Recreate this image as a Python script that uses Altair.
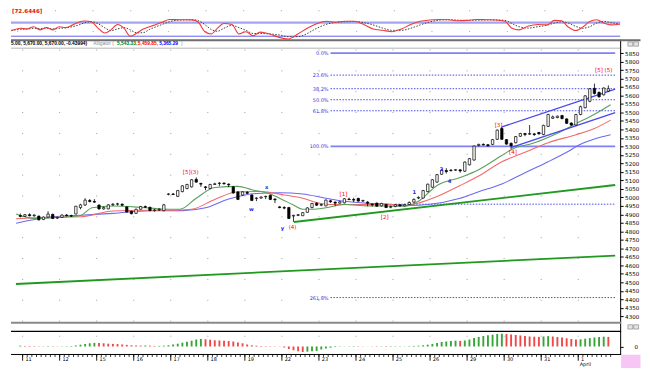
import altair as alt
import pandas as pd

# ---------------- data ----------------
opens = [4893, 4888, 4898, 4892, 4890, 4870, 4884, 4900, 4878, 4882, 4896, 4892,
         4902, 4940, 4955, 4982, 4976, 4955, 4932, 4932, 4956, 4960, 4960, 4944,
         4918, 4906, 4930, 4946, 4942, 4922, 4926, 4922, 5018, 5020, 5006, 5034,
         5052, 5062, 5106, 5082, 5062, 5052, 5076, 5082, 5084, 5078, 5062, 5032,
         5014, 5030, 5014, 4994, 4996, 5004, 5012, 4990, 4944, 4940, 4940, 4890,
         4894, 4892, 4912, 4940, 4966, 4954, 4950, 4980, 4972, 4966, 4968, 4990,
         4988, 4994, 4978, 4972, 4960, 4966, 4950, 4958, 4942, 4946, 4956, 4950,
         4958, 4972, 4996, 4996, 5034, 5060, 5090, 5136, 5158, 5160, 5160, 5162,
         5154, 5192, 5220, 5306, 5312, 5310, 5312, 5342, 5406, 5340, 5318, 5322,
         5360, 5376, 5372, 5374, 5382, 5370, 5418, 5466, 5470, 5482, 5462, 5438,
         5426, 5488, 5528, 5566, 5642, 5618, 5604, 5626]
highs = [4905, 4902, 4906, 4900, 4892, 4888, 4918, 4904, 4886, 4900, 4902, 4898,
         4950, 4962, 4995, 4990, 4990, 4958, 4946, 4960, 4966, 4968, 4964, 4946,
         4922, 4934, 4950, 4952, 4944, 4932, 4936, 4962, 5024, 5026, 5044, 5072,
         5080, 5108, 5118, 5086, 5066, 5080, 5086, 5090, 5088, 5082, 5066, 5036,
         5036, 5036, 5018, 5000, 5006, 5010, 5016, 4994, 4948, 4948, 4944, 4898,
         4902, 4914, 4942, 4968, 4970, 4962, 4988, 4986, 4976, 4980, 4996, 4998,
         4998, 4998, 4986, 4978, 4964, 4970, 4968, 4962, 4952, 4960, 4960, 4962,
         4976, 4994, 5006, 5044, 5080, 5108, 5138, 5166, 5172, 5166, 5166, 5166,
         5212, 5232, 5306, 5316, 5318, 5314, 5344, 5400, 5416, 5344, 5324, 5362,
         5380, 5380, 5426, 5378, 5386, 5428, 5492, 5482, 5482, 5486, 5466, 5442,
         5492, 5540, 5602, 5644, 5670, 5624, 5648, 5660]
lows = [4882, 4884, 4888, 4886, 4864, 4866, 4882, 4872, 4872, 4880, 4888, 4884,
        4900, 4930, 4950, 4970, 4968, 4928, 4928, 4930, 4950, 4952, 4948, 4910,
        4900, 4904, 4928, 4938, 4918, 4916, 4920, 4918, 5012, 5014, 5002, 5030,
        5048, 5058, 5086, 5062, 5042, 5050, 5074, 5066, 5076, 5060, 5022, 4984,
        5010, 5020, 4978, 4978, 4992, 4990, 4984, 4966, 4936, 4930, 4872, 4856,
        4890, 4890, 4910, 4936, 4950, 4948, 4948, 4968, 4948, 4964, 4964, 4984,
        4972, 4976, 4974, 4948, 4946, 4946, 4946, 4938, 4936, 4942, 4946, 4948,
        4956, 4970, 4990, 4994, 5030, 5056, 5086, 5134, 5140, 5154, 5156, 5146,
        5150, 5188, 5216, 5300, 5306, 5298, 5308, 5338, 5338, 5310, 5284, 5318,
        5356, 5360, 5368, 5362, 5370, 5366, 5414, 5462, 5466, 5460, 5432, 5420,
        5422, 5484, 5524, 5560, 5606, 5588, 5600, 5620]
closes = [4888, 4898, 4892, 4896, 4868, 4884, 4902, 4876, 4882, 4896, 4892, 4890,
          4948, 4956, 4984, 4976, 4972, 4932, 4940, 4956, 4960, 4962, 4954, 4914,
          4904, 4930, 4946, 4942, 4922, 4926, 4930, 4956, 5020, 5017, 5040, 5068,
          5076, 5104, 5090, 5078, 5058, 5076, 5080, 5084, 5080, 5074, 5026, 4988,
          5032, 5024, 4982, 4996, 5002, 5006, 4988, 4986, 4940, 4937, 4876, 4894,
          4898, 4910, 4938, 4964, 4954, 4958, 4984, 4974, 4966, 4974, 4992, 4987,
          4984, 4978, 4982, 4966, 4956, 4948, 4964, 4940, 4946, 4956, 4950, 4958,
          4970, 4988, 5000, 5040, 5078, 5104, 5134, 5160, 5152, 5157, 5163, 5156,
          5208, 5228, 5302, 5312, 5309, 5304, 5340, 5396, 5342, 5314, 5304, 5358,
          5376, 5370, 5376, 5370, 5374, 5424, 5488, 5474, 5478, 5464, 5436, 5426,
          5488, 5534, 5598, 5640, 5612, 5592, 5644, 5640]

ao_values = [8, 6, 5, 4, 3, 3, 4, 3, 2,
             2, 3, 5, 10, 18, 25, 32, 36,
             35, 32, 28, 26, 24, 20, 16, 12,
             10, 9, 10, 8, 6, 6, 8, 12,
             20, 28, 38, 48, 58, 70, 75, 72,
             68, 62, 60, 58, 55, 50, 40, 32,
             20, 12, 8, 5, 4, 3, 2, -2,
             -10, -25, -38, -48, -55, -52, -48, -45,
             -30, -20, -12, -6, -3, 2, 3, 4,
             3, 2, 1, -2, -3, -3, -4, -4,
             -3, -2, 2, 4, 6, 8, 12, 18,
             25, 35, 45, 50, 55, 58, 56, 60,
             70, 85, 95, 105, 112, 118, 125, 128,
             125, 120, 115, 110, 105, 100, 98, 96,
             100, 104, 100, 95, 90, 82, 75, 70,
             72, 78, 84, 90, 95, 98, 96]

days = ["11", "12", "15", "16", "17", "18", "19", "22", "23", "24", "25", "26",
        "29", "30", "31", "1"]
month_label = "April"

jaw_j = [-0.9, 6, 13, 20, 28, 35, 40, 45, 51, 56, 61, 66, 70, 75, 80, 84, 88, 95,
         99, 104, 109, 114, 118, 121, 124, 127.5]
jaw_p = [4848, 4883, 4895, 4906, 4921, 4922, 4939, 4990, 5023, 5027, 5020, 4995,
         4977, 4965, 4960, 4952, 4958, 4995, 5033, 5079, 5145, 5210, 5266, 5313,
         5344, 5369]
teeth_j = [-0.9, 6, 13, 20, 27, 33, 37, 42, 47, 52, 57, 61, 64, 67, 72, 79, 83, 86,
           90, 95, 99, 104, 109, 114, 120, 124, 127.5]
teeth_p = [4874, 4883, 4886, 4920, 4924, 4924, 4930, 4988, 5033, 5035, 5014, 4995,
           4970, 4958, 4958, 4960, 4952, 4967, 5005, 5070, 5126, 5210, 5266, 5322,
           5369, 5406, 5455]
lips_j = [-0.9, 3, 9, 13, 15.5, 20, 27, 32, 34.5, 38, 42, 47, 50, 54, 56, 59, 61, 63,
          66, 70, 75, 80, 83, 86, 90, 95, 99, 104, 107, 110, 116, 120, 124, 127.5]
lips_p = [4902, 4876, 4883, 4893, 4939, 4949, 4939, 4930, 4930, 4995, 5058, 5065,
          5045, 5020, 4995, 4955, 4930, 4930, 4939, 4958, 4950, 4949, 4948, 4977,
          5070, 5117, 5163, 5247, 5294, 5313, 5378, 5434, 5490, 5546]

osc_j = [-0.9, 1.1, 2.5, 3.9, 5.2, 6.6, 8.0, 9.3, 10.7, 12.1, 13.5, 14.8, 16.2, 17.6,
         19.0, 20.3, 21.7, 23.1, 24.4, 25.8, 27.2, 28.5, 29.9, 31.3, 32.7, 34.7, 37.5,
         38.8, 40.2, 41.6, 42.9, 44.3, 46, 47.5, 49, 50.5, 52, 54, 56, 58, 60, 62, 64,
         66, 68, 70, 72, 74, 76, 78, 80, 82, 84, 86, 88, 90, 92, 94, 96, 98, 100, 102,
         104, 105.5, 107, 109, 111, 113, 114.5, 116, 117.5, 119, 120.5, 122, 123.5,
         125, 126.5, 128.4]
osc_k = [44, 55, 52, 62, 48, 58, 48, 62, 58, 69, 83, 87, 83, 55, 34, 48, 72, 55, 20, 34,
         52, 62, 72, 83, 94, 93, 92, 83, 41, 30, 55, 76, 72, 30, 40, 22, 38, 30, 15, 8,
         30, 55, 75, 86, 82, 86, 86, 72, 52, 46, 40, 52, 72, 86, 92, 94, 93, 88, 90, 94,
         93, 92, 86, 55, 48, 65, 72, 70, 90, 88, 60, 45, 60, 85, 93, 78, 70, 72.6]
osc_d = [46, 50, 52, 55, 54, 56, 52, 55, 57, 62, 70, 80, 84, 75, 57, 45, 52, 58, 48, 35,
         36, 50, 62, 73, 84, 91, 93, 89, 72, 50, 42, 55, 68, 58, 46, 32, 32, 30, 26, 18,
         18, 32, 55, 72, 81, 84, 85, 80, 70, 56, 46, 46, 55, 70, 83, 91, 93, 91, 90, 91,
         92, 92, 90, 76, 62, 56, 62, 69, 78, 84, 78, 64, 55, 62, 78, 86, 80, 74]
osc_levels = [80, 20]
osc_reading = "[72.6446]"

fib_labels = ["0.0%", "23.6%", "38.2%", "50.0%", "61.8%", "100.0%", "261.8%"]
fib_prices = [5850, 5720, 5640, 5575, 5510, 5300, 4410]
fib_start = 67
support_price = 4960
support_start = 81

green_id = ["a", "a", "b", "b"]
green_j = [59.1, 128.48, -0.94, 128.48]
green_p = [4855, 5073, 4490, 4657]
chan_id = ["u", "u", "l", "l"]
chan_j = [104, 128.48, 106.1, 128.48]
chan_p = [5415, 5637, 5294, 5499]

red_text = ["[5](3)", "(4)", "[1]", "[2]", "[3]", "[4]", "[5] (5)"]
red_j = [36.8, 58.8, 69.8, 78.7, 103.3, 106.4, 126]
red_p = [5151, 4826, 5021, 4883, 5428, 5266, 5753]
blue_text = ["w", "x", "y", "1", "3", "4"]
blue_j = [49.9, 53.2, 56.6, 85.1, 91, 92.7]
blue_p = [4934, 5060, 4818, 5032, 5169, 5094]

header_main = "5.00, 5,670.00, 5,670.00, -0.43994)"
header_name = "Alligator"
header_vals = ["5,543.33,", "5,459.85,", "5,365.29"]

# ---------------- layout ----------------
SX = 634 / 650
SY = 361 / 377
W = 629 * SX
H_OSC = 31 * SY
H_MAIN = 307 * SY
H_AO = 24.7 * SY
X_DOMAIN = [-0.94, 128.48]
MAIN_DOMAIN = [4213.4, 5932.3]
OSC_DOMAIN = [8.8, 139]
AO_DOMAIN = [-80, 155.2]
FONT = "DejaVu Sans"
HFONT = "Liberation Sans"
HSIZE = 4.9


def ry_main(v):
    return (v - 31) * SY


def ry_ao(v):
    return (v - 338) * SY


def rx(v):
    return v * SX


xs = alt.Scale(domain=X_DOMAIN, nice=False, zero=False)
ys = alt.Scale(domain=MAIN_DOMAIN, nice=False, zero=False)
yo = alt.Scale(domain=OSC_DOMAIN, nice=False, zero=False)
ya = alt.Scale(domain=AO_DOMAIN, nice=False, zero=False)

y_axis = alt.Axis(orient="right", values=list(range(4300, 5851, 50)), format="d",
                  labelFont=FONT, labelFontSize=5.6, labelColor="black", tickSize=3,
                  tickColor="black", domainColor="black", labelPadding=1.5,
                  title=None, grid=False, labelOverlap=False)


def X(f):
    return alt.X(f, scale=xs, axis=None)


def Y(f):
    return alt.Y(f, scale=ys, axis=y_axis)


one = pd.DataFrame({"k": [0]})
bars = pd.DataFrame({"j": list(range(len(closes))), "o": opens, "h": highs,
                     "l": lows, "c": closes})
bars["fillc"] = ["white" if c >= o else "black" for o, c in zip(opens, closes)]
day_df = pd.DataFrame({"j": [0.5 + 8 * k for k in range(len(days))], "lab": days})

# ---------------- oscillator panel ----------------
osc_df = pd.DataFrame({"j": osc_j, "k": osc_k, "d": osc_d})
lvl_hi = pd.DataFrame({"v": [osc_levels[0]]})
lvl_lo = pd.DataFrame({"v": [osc_levels[1]]})

osc = alt.layer(
    alt.Chart(day_df).mark_rule(color="#a0a0a0", strokeDash=[1, 20]).encode(
        x=X("j:Q"), y=alt.value(1), y2=alt.value(H_OSC)),
    alt.Chart(lvl_hi).mark_rule(color="#a4a4f2", strokeWidth=2.4).encode(
        y=alt.Y("v:Q", scale=yo, axis=None), x=alt.value(0), x2=alt.value(W)),
    alt.Chart(lvl_lo).mark_rule(color="#6262ee", strokeWidth=1).encode(
        y=alt.Y("v:Q", scale=yo, axis=None), x=alt.value(0), x2=alt.value(W)),
    alt.Chart(osc_df).mark_line(color="#404040", strokeWidth=1, strokeDash=[1.5, 1.5],
                                interpolate="monotone").encode(
        x=X("j:Q"), y=alt.Y("d:Q", scale=yo, axis=None)),
    alt.Chart(osc_df).mark_line(color="#f03a3a", strokeWidth=1.1,
                                interpolate="monotone").encode(
        x=X("j:Q"), y=alt.Y("k:Q", scale=yo, axis=None)),
    alt.Chart(one).mark_text(text=osc_reading, color="#e01010", fontWeight="bold",
                             fontSize=5.6, font=FONT, align="left", baseline="top").encode(
        x=alt.value(1), y=alt.value(0)),
).properties(width=W, height=H_OSC)

# ---------------- main panel ----------------
fib_df = pd.DataFrame({"p": fib_prices, "lab": fib_labels})
fib_df["x0"] = fib_start
fib_df["x1"] = X_DOMAIN[1]
solid_df = fib_df[fib_df["lab"].isin(["0.0%", "100.0%"])]
dot_df = fib_df[~fib_df["lab"].isin(["0.0%", "100.0%"])]
sup_df = pd.DataFrame({"p": [support_price], "x0": [support_start], "x1": [X_DOMAIN[1]]})
green_df = pd.DataFrame({"g": green_id, "j": green_j, "p": green_p})
chan_df = pd.DataFrame({"g": chan_id, "j": chan_j, "p": chan_p})
jaw_df = pd.DataFrame({"j": jaw_j, "p": jaw_p})
teeth_df = pd.DataFrame({"j": teeth_j, "p": teeth_p})
lips_df = pd.DataFrame({"j": lips_j, "p": lips_p})
red_df = pd.DataFrame({"t": red_text, "j": red_j, "p": red_p})
blue_df = pd.DataFrame({"t": blue_text, "j": blue_j, "p": blue_p})


def header(txt, x, color, bold=True):
    kw = dict(text=txt, font=HFONT, fontSize=HSIZE, color=color, align="left",
              baseline="middle")
    if bold:
        kw["fontWeight"] = "bold"
    return alt.Chart(one).mark_text(**kw).encode(x=alt.value(x), y=alt.value(ry_main(35.7)))


def icon(x0, y0):
    return alt.Chart(one).mark_rect(fill="#e4e4e4", stroke="#7a7a7a", strokeWidth=0.6).encode(
        x=alt.value(rx(x0)), x2=alt.value(rx(x0 + 5)), y=alt.value(ry_main(y0)),
        y2=alt.value(ry_main(y0 + 4.5)))


main_layers = [
    alt.Chart(day_df).mark_rule(color="#9a9a9a", strokeDash=[1, 20]).encode(
        x=X("j:Q"), y=alt.value(ry_main(42)), y2=alt.value(ry_main(329))),
    alt.Chart(dot_df).mark_rule(color="#4a4ae8", strokeWidth=1, strokeDash=[1.5, 1.5]).encode(
        x=X("x0:Q"), x2="x1:Q", y=Y("p:Q")),
    alt.Chart(solid_df).mark_rule(color="#8080f2", strokeWidth=1.8).encode(
        x=X("x0:Q"), x2="x1:Q", y=Y("p:Q")),
    alt.Chart(sup_df).mark_rule(color="#4a4ae8", strokeWidth=1, strokeDash=[1.5, 1.5]).encode(
        x=X("x0:Q"), x2="x1:Q", y=Y("p:Q")),
    alt.Chart(fib_df).mark_text(align="right", baseline="middle", fontSize=5, font=FONT,
                                color="#3434e0", dx=-2).encode(
        x=X("x0:Q"), y=Y("p:Q"), text="lab:N"),
    alt.Chart(green_df).mark_line(color="#1f9a1f", strokeWidth=1.8).encode(
        x=X("j:Q"), y=Y("p:Q"), detail="g:N"),
    alt.Chart(jaw_df).mark_line(color="#6a6af2", strokeWidth=1.1, interpolate="monotone").encode(
        x=X("j:Q"), y=Y("p:Q")),
    alt.Chart(teeth_df).mark_line(color="#f26a6a", strokeWidth=1.1, interpolate="monotone").encode(
        x=X("j:Q"), y=Y("p:Q")),
    alt.Chart(lips_df).mark_line(color="#5aa05a", strokeWidth=1.1, interpolate="monotone").encode(
        x=X("j:Q"), y=Y("p:Q")),
    alt.Chart(chan_df).mark_line(color="#4848f0", strokeWidth=1.4).encode(
        x=X("j:Q"), y=Y("p:Q"), detail="g:N"),
    alt.Chart(bars).mark_rule(color="black", strokeWidth=0.8).encode(
        x=X("j:Q"), y=Y("l:Q"), y2="h:Q"),
    alt.Chart(bars).mark_bar(size=2.4, stroke="black", strokeWidth=0.7).encode(
        x=X("j:Q"), y=Y("o:Q"), y2="c:Q",
        fill=alt.Fill("fillc:N", scale=None)),
    alt.Chart(red_df).mark_text(color="#ff0000", fontSize=5.6, font=FONT,
                                baseline="middle").encode(
        x=X("j:Q"), y=Y("p:Q"), text="t:N"),
    alt.Chart(blue_df).mark_text(color="#1a1aee", fontSize=5.2, font=FONT, fontWeight="bold",
                                 baseline="middle").encode(
        x=X("j:Q"), y=Y("p:Q"), text="t:N"),
    # panel frame and header
    alt.Chart(one).mark_rule(color="#6e6e6e", strokeWidth=2).encode(
        x=alt.value(0), x2=alt.value(634), y=alt.value(ry_main(32.3))),
    alt.Chart(one).mark_rule(color="#b4b4b4", strokeWidth=1).encode(
        x=alt.value(0), x2=alt.value(W), y=alt.value(ry_main(40.6))),
    alt.Chart(one).mark_rule(color="#8a8a8a", strokeWidth=2).encode(
        x=alt.value(0), x2=alt.value(rx(630)), y=alt.value(ry_main(329.3))),
    header(header_main, 0, "black"),
    header(header_name + " (", rx(85), "#8c8c8c", bold=False),
    header(header_vals[0], rx(109.5), "#008000"),
    header(header_vals[1], rx(131), "#ff0000"),
    header(header_vals[2], rx(153), "#0000ff"),
    header(")", rx(175.5), "#8c8c8c", bold=False),
    icon(637, 34), icon(643, 34), icon(637, 331.5), icon(643, 331.5),
]
main = alt.layer(*main_layers).properties(width=W, height=H_MAIN)

# ---------------- oscillator histogram + date axis ----------------
ao_df = pd.DataFrame({"j": list(range(len(ao_values))), "v": ao_values})
ao_df["z"] = 0
prev = [ao_values[0]] + ao_values[:-1]
ao_df["col"] = ["g" if v >= p else "r" for v, p in zip(ao_values, prev)]
minor_df = pd.DataFrame({"j": [b + 0.5 for b in range(len(ao_values))]})
last_day = day_df.tail(1)

ao_axis = alt.Axis(orient="right", values=[0], labelFont=FONT, labelFontSize=5.6,
                   labelColor="black", tickSize=3, tickColor="black", domainColor="black",
                   labelPadding=11, title=None, grid=False)

ao = alt.layer(
    alt.Chart(day_df).mark_rule(color="#a0a0a0").encode(
        x=X("j:Q"), y=alt.value(ry_ao(343)), y2=alt.value(ry_ao(344))),
    alt.Chart(ao_df).mark_bar(size=1.9).encode(
        x=X("j:Q"), y=alt.Y("v:Q", scale=ya, axis=ao_axis), y2="z:Q",
        color=alt.Color("col:N", scale=alt.Scale(domain=["g", "r"],
                                                  range=["#36a636", "#f04848"]),
                        legend=None)),
    alt.Chart(one).mark_rule(color="black", strokeWidth=1.3).encode(
        x=alt.value(0), x2=alt.value(rx(630)), y=alt.value(0.4)),
    alt.Chart(one).mark_rule(color="black", strokeWidth=1).encode(
        x=alt.value(0), x2=alt.value(rx(630)), y=alt.value(H_AO)),
    alt.Chart(minor_df).mark_rule(color="black", strokeWidth=0.8).encode(
        x=X("j:Q"), y=alt.value(H_AO), y2=alt.value(H_AO + 2.5)),
    alt.Chart(day_df).mark_rule(color="black", strokeWidth=0.9).encode(
        x=X("j:Q"), y=alt.value(H_AO), y2=alt.value(H_AO + 6.3)),
    alt.Chart(day_df).mark_text(align="left", baseline="top", fontSize=5, font=FONT,
                                color="black", dx=2.8).encode(
        x=X("j:Q"), y=alt.value(H_AO + 2.2), text="lab:N"),
    alt.Chart(last_day).mark_text(text=month_label, align="left", baseline="top",
                                  fontSize=5, font=FONT, color="black", dx=1.5).encode(
        x=X("j:Q"), y=alt.value(H_AO + 7.8)),
    alt.Chart(one).mark_rect(fill="#f8c6f4").encode(
        x=alt.value(rx(630)), x2=alt.value(634), y=alt.value(ry_ao(363)),
        y2=alt.value(ry_ao(377))),
).properties(width=W, height=H_AO)

chart = alt.vconcat(osc, main, ao, spacing=0, bounds="flush", padding=0).configure_view(
    strokeWidth=0)

chart.save("out.html", embed_options={"renderer": "svg", "actions": False})
